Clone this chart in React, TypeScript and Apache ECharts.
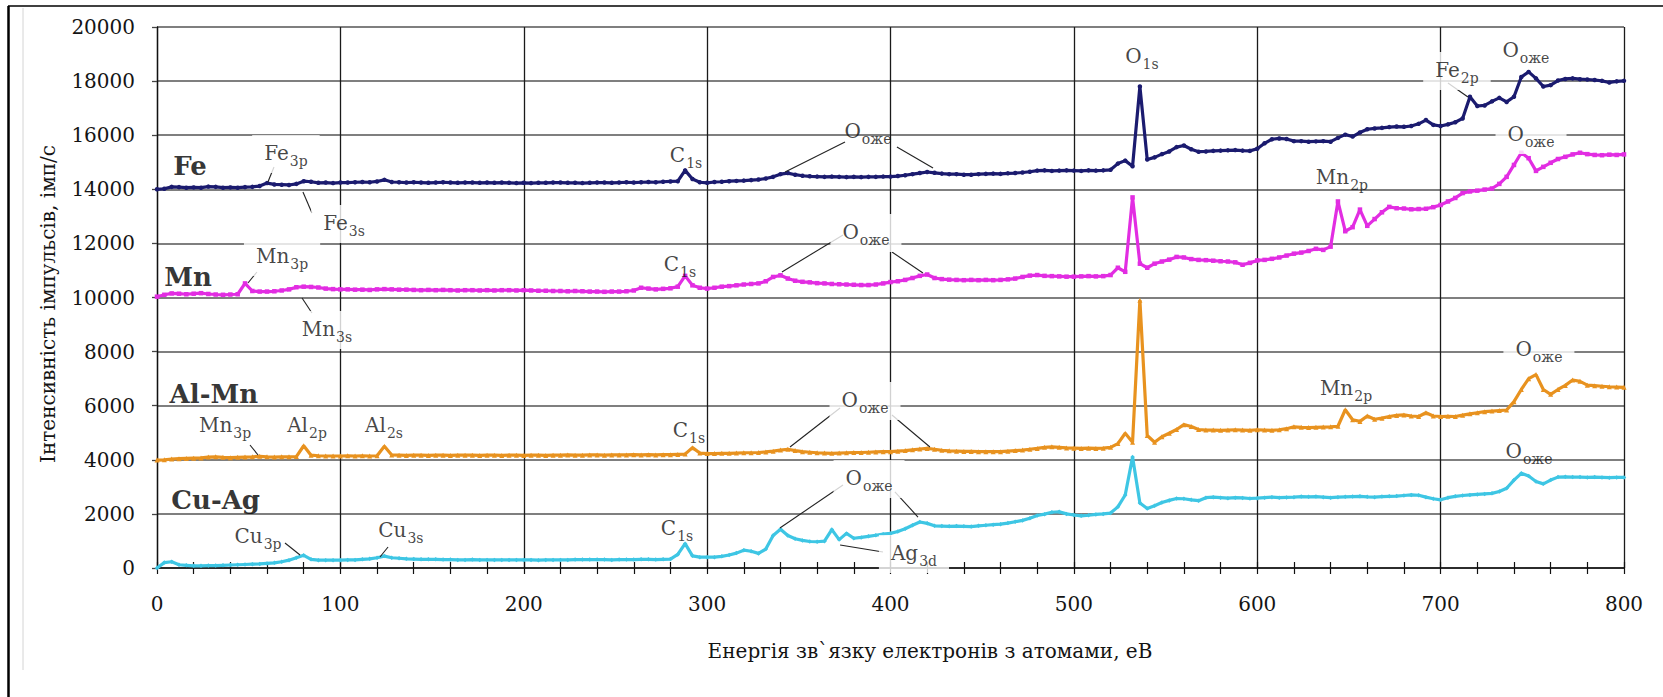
import { useEffect, useRef } from 'react';
import * as echarts from 'echarts';

// Binding energy grid step, eV
const energyStep = 4;

// Intensity, counts/s, sampled every 4 eV from 0 to 800 eV
const feCounts = [
  14000, 14020, 14090, 14080, 14060, 14070, 14060, 14100, 14090, 14060,
  14070, 14060, 14080, 14090, 14120, 14230, 14180, 14170, 14160, 14200,
  14300, 14280, 14240, 14250, 14230, 14250, 14250, 14260, 14270, 14260,
  14290, 14350, 14270, 14260, 14250, 14260, 14250, 14240, 14250, 14260,
  14250, 14240, 14250, 14250, 14240, 14250, 14240, 14250, 14240, 14230,
  14240, 14230, 14240, 14240, 14250, 14250, 14240, 14240, 14230, 14240,
  14250, 14250, 14240, 14250, 14260, 14250, 14260, 14270, 14260, 14280,
  14290, 14300, 14700, 14380, 14260, 14240, 14270, 14280, 14300, 14310,
  14320, 14340, 14360, 14400, 14460, 14560, 14600, 14540, 14500, 14480,
  14470, 14460, 14470, 14460, 14450, 14460, 14450, 14460, 14460, 14470,
  14470, 14490, 14520, 14560, 14600, 14640, 14610, 14580, 14560, 14560,
  14540, 14540, 14560, 14570, 14580, 14570, 14590, 14600, 14620, 14650,
  14690, 14700, 14680, 14690, 14700, 14690, 14680, 14700, 14690, 14700,
  14720, 14950, 15060, 14850, 17800, 15100, 15180, 15300, 15400, 15560,
  15620, 15480, 15390, 15400, 15420, 15430, 15440, 15450, 15430, 15420,
  15500, 15700, 15850, 15880, 15860, 15780, 15780, 15760, 15770, 15780,
  15760, 15900, 16020, 15950, 16100, 16220, 16250, 16270, 16300, 16320,
  16310, 16340, 16420, 16560, 16380, 16340, 16400, 16480, 16620, 17420,
  17080, 17100, 17250, 17380, 17230, 17420, 18150, 18340, 18100, 17800,
  17850, 18020, 18080, 18100, 18070, 18060, 18040, 18010, 17950, 17990,
  18010,
];

const mnCounts = [
  10030, 10100, 10150, 10140, 10120, 10140, 10160, 10130, 10110, 10100,
  10110, 10120, 10520, 10240, 10220, 10220, 10230, 10260, 10300, 10380,
  10400, 10390, 10370, 10330, 10310, 10300, 10300, 10290, 10290, 10280,
  10300, 10310, 10300, 10290, 10290, 10280, 10270, 10280, 10270, 10280,
  10270, 10260, 10270, 10270, 10260, 10270, 10260, 10270, 10270, 10260,
  10270, 10260, 10250, 10250, 10240, 10240, 10230, 10240, 10230, 10220,
  10220, 10210, 10220, 10220, 10230, 10260, 10360, 10330, 10300, 10320,
  10340, 10400, 10800, 10450, 10360, 10330, 10360, 10400, 10420, 10450,
  10480, 10500, 10520, 10600, 10760, 10820, 10700, 10620, 10580, 10560,
  10530, 10520, 10500, 10490, 10480, 10470, 10460, 10460, 10480, 10520,
  10570, 10600, 10650, 10720, 10800, 10850, 10720, 10680, 10660, 10650,
  10640, 10650, 10640, 10650, 10640, 10650, 10670, 10700, 10760, 10810,
  10830, 10800, 10790, 10780, 10770, 10770, 10780, 10790, 10780, 10790,
  10830, 11100, 10950, 13700, 11250, 11100, 11250, 11330, 11400, 11500,
  11480, 11420, 11390, 11380, 11360, 11340, 11330, 11300, 11210, 11280,
  11370, 11390, 11430, 11480, 11550, 11620, 11660, 11720, 11800, 11760,
  11880, 13550, 12450, 12600, 13250, 12650, 12900, 13150, 13350, 13300,
  13290, 13260, 13270, 13280, 13340, 13420, 13550, 13680, 13860, 13920,
  13950, 13990, 14030, 14200, 14460, 14900, 15350, 15150, 14680, 14830,
  14980, 15120, 15200, 15290, 15350, 15300, 15270, 15260, 15280, 15270,
  15290,
];

const alMnCounts = [
  3990, 4000, 4030, 4040, 4050, 4060, 4070, 4100, 4110, 4090,
  4080, 4090, 4100, 4110, 4130, 4110, 4100, 4110, 4110, 4120,
  4520, 4170, 4150, 4140, 4140, 4140, 4150, 4140, 4150, 4140,
  4150, 4500, 4180, 4170, 4160, 4170, 4170, 4160, 4170, 4170,
  4160, 4170, 4170, 4170, 4160, 4170, 4170, 4160, 4170, 4170,
  4160, 4170, 4170, 4160, 4170, 4170, 4180, 4170, 4170, 4180,
  4180, 4170, 4180, 4180, 4180, 4190, 4180, 4190, 4180, 4190,
  4190, 4200, 4210, 4450, 4250, 4230, 4230, 4240, 4240, 4250,
  4260, 4260, 4270, 4290, 4320, 4360, 4390, 4340, 4300, 4280,
  4260, 4250, 4240, 4250, 4260, 4270, 4270, 4280, 4290, 4300,
  4300, 4320, 4340, 4370, 4400, 4420, 4390, 4350, 4330, 4320,
  4310, 4310, 4300, 4300, 4300, 4300, 4320, 4340, 4360, 4390,
  4420, 4460, 4480, 4460, 4440, 4430, 4420, 4430, 4420, 4430,
  4460, 4600, 4980, 4650, 9900, 4900, 4650, 4850, 4980, 5120,
  5300, 5230, 5120, 5100, 5100, 5090, 5100, 5110, 5100, 5090,
  5110, 5100, 5090, 5110, 5150, 5220, 5200, 5190, 5200, 5210,
  5220, 5240, 5850, 5480, 5420, 5620, 5500, 5540, 5600, 5640,
  5660, 5620, 5600, 5740, 5620, 5600, 5610, 5600, 5650, 5700,
  5740, 5780, 5800, 5820, 5840, 6150, 6600, 7000, 7150, 6600,
  6420, 6600, 6750, 6950, 6900, 6760, 6740, 6720, 6700, 6690,
  6680,
];

const cuAgCounts = [
  0, 200, 230, 120, 100, 80, 80, 90, 90, 100,
  110, 120, 130, 140, 150, 170, 190, 230, 290, 380,
  470, 320, 290, 290, 290, 290, 300, 300, 320, 340,
  380, 440, 380, 360, 340, 330, 320, 320, 320, 310,
  310, 300, 300, 310, 300, 300, 300, 300, 300, 300,
  300, 300, 290, 300, 300, 300, 300, 310, 310, 310,
  310, 310, 300, 310, 310, 310, 320, 320, 310, 320,
  330, 500, 900, 450, 400, 400, 400, 430, 480, 550,
  660, 620, 540, 700, 1200, 1430, 1200, 1080, 1020, 980,
  970, 990, 1420, 1050, 1280, 1100, 1130, 1170, 1210, 1250,
  1280, 1350, 1450, 1580, 1700, 1650, 1560, 1550, 1540, 1550,
  1540, 1530, 1560, 1580, 1600, 1620, 1660, 1710, 1760, 1840,
  1940, 1990, 2060, 2080, 2000, 1960, 1930, 1950, 1980, 2000,
  2030, 2260, 2700, 4100, 2400, 2200, 2300, 2420, 2500, 2570,
  2560, 2520, 2490, 2600, 2620, 2600, 2580, 2600, 2590, 2570,
  2580, 2600, 2620, 2600, 2610, 2620, 2640, 2630, 2640, 2620,
  2600, 2620, 2630, 2640, 2650, 2630, 2620, 2640, 2650, 2660,
  2680, 2700, 2690, 2620, 2560, 2520, 2600, 2650, 2680, 2700,
  2720, 2740, 2760, 2830, 2950, 3250, 3500, 3400, 3200, 3110,
  3250, 3360, 3370, 3360, 3360, 3350, 3360, 3350, 3340, 3350,
  3350,
];

// Sample names and where they sit (eV, counts/s)
const sampleNames = ['Fe', 'Mn', 'Al-Mn', 'Cu-Ag'];
const sampleNameEnergy = [18, 17, 31, 32];
const sampleNameCounts = [14860, 10760, 6430, 2510];

// Peak annotations: element_subscript, anchor energy, anchor counts
const peakLabels = [
  'Fe_3p', 'Fe_3s', 'Mn_3p', 'Mn_3s', 'C_1s', 'C_1s', 'C_1s', 'C_1s',
  'O_оже', 'O_оже', 'O_оже', 'O_оже', 'Ag_3d', 'O_1s', 'Fe_2p', 'O_оже',
  'Mn_2p', 'O_оже', 'Mn_2p', 'O_оже', 'O_оже', 'Mn_3p', 'Al_2p', 'Al_2s',
  'Cu_3p', 'Cu_3s',
];
const peakEnergy = [
  70.3, 102, 68.2, 92.7, 288.5, 285.2, 290.1, 283.6,
  387.7, 386.6, 386.1, 388.3, 412.8, 537.1, 708.9, 746.5,
  646.2, 749.3, 648.4, 753.6, 748.2, 37.1, 81.8, 123.8,
  55.1, 133,
];
const peakCounts = [
  15305, 12717, 11497, 8798, 15231, 11201, 5065, 1442,
  16118, 12384, 6174, 3290, 518, 18891, 18373, 19113,
  14418, 16007, 6617, 8059, 4288, 5250, 5250, 5250,
  1146, 1368,
];
// Annotations drawn on an opaque box
const boxedPeaks = [0, 1, 2, 3, 9, 10, 11, 12, 14, 17, 19];

// Leader lines from a peak to its annotation: [eV, counts] pairs
const leaderStart = [
  [63.8, 14824], [79.6, 13900], [54.5, 10943], [79.1, 9982],
  [342.5, 14640], [403.5, 15564], [340.8, 10943], [400.8, 11682],
  [345.2, 4473], [400.8, 5656], [339.7, 1479], [402.4, 2810],
  [372.5, 850], [69.8, 924], [121.6, 407], [50.7, 4547], [704, 17930],
];
const leaderEnd = [
  [60.5, 14270], [84.5, 13124], [49.6, 10536], [84.5, 9427],
  [375.2, 15749], [423.2, 14787], [374.1, 12311], [417.7, 10906],
  [372.5, 5915], [421.5, 4473], [374.1, 3068], [415, 1885],
  [395.9, 591], [78, 481], [126, 776], [55.1, 4177], [714.9, 17412],
];

const FONT = '"DejaVu Serif", "Liberation Serif", serif';
const INK = '#141414';

function richText(label: string) {
  const [main, sub] = label.split('_');
  return sub ? `{m|${main}}{s|${sub}}` : `{m|${main}}`;
}

export default function App() {
  const ref = useRef<HTMLDivElement>(null);

  useEffect(() => {
    if (!ref.current) return;
    const chart = echarts.init(ref.current, undefined, { renderer: 'svg' });
    const energies = feCounts.map((_, i) => i * energyStep);
    const pairs = (counts: number[]) => counts.map((c, i) => [energies[i], c]);

    const spectrum = (name: string, counts: number[], color: string, symbol: string, size: number) => ({
      name,
      type: 'line',
      data: pairs(counts),
      showSymbol: true,
      symbol,
      symbolSize: size,
      itemStyle: { color },
      lineStyle: { color, width: 3.2 },
      emphasis: { disabled: true },
      silent: true,
      z: 3,
    });

    const rich = {
      m: { fontFamily: FONT, fontSize: 20, lineHeight: 22, verticalAlign: 'top', color: INK },
      s: { fontFamily: FONT, fontSize: 14, lineHeight: 14, verticalAlign: 'top', padding: [11, 0, 0, 1], color: INK },
    };

    const axisFont = { fontFamily: FONT, fontSize: 20, color: INK };

    chart.setOption({
      animation: false,
      backgroundColor: '#ffffff',
      grid: { left: 157, right: 39, top: 27, bottom: 129, containLabel: false },
      xAxis: [
        {
          type: 'value',
          min: 0,
          max: 800,
          interval: 100,
          axisLine: { show: true, onZero: false, lineStyle: { color: '#111', width: 1.5 } },
          axisTick: { show: true, inside: false, length: 6, lineStyle: { color: '#111', width: 1.2 } },
          minorTick: { show: true, splitNumber: 5, length: 6, lineStyle: { color: '#111', width: 1.2 } },
          axisLabel: { ...axisFont, margin: 26, formatter: (v: number) => String(v) },
          splitLine: { show: true, lineStyle: { color: '#1a1a1a', width: 1.3 } },
        },
        {
          type: 'value',
          min: 0,
          max: 800,
          interval: 100,
          position: 'bottom',
          axisLine: { show: false },
          axisTick: { show: true, inside: true, length: 6, lineStyle: { color: '#111', width: 1.2 } },
          minorTick: { show: true, splitNumber: 5, length: 6, lineStyle: { color: '#111', width: 1.2 } },
          axisLabel: { show: false },
          splitLine: { show: false },
        },
      ],
      yAxis: {
        type: 'value',
        min: 0,
        max: 20000,
        interval: 2000,
        axisLine: { show: true, lineStyle: { color: '#111', width: 1.3 } },
        axisTick: { show: true, length: 5, lineStyle: { color: '#444', width: 1.3 } },
        axisLabel: { ...axisFont, margin: 22, formatter: (v: number) => String(v) },
        splitLine: { show: true, lineStyle: { color: '#555', width: 1.6 } },
      },
      series: [
        spectrum('Fe', feCounts, '#1b1b6f', 'circle', 4.5),
        spectrum('Mn', mnCounts, '#e22de2', 'rect', 4.5),
        spectrum('Al-Mn', alMnCounts, '#e8921f', 'triangle', 5),
        spectrum('Cu-Ag', cuAgCounts, '#3ec6e4', 'diamond', 4.5),
        {
          name: 'peaks',
          type: 'scatter',
          symbolSize: 0,
          silent: true,
          z: 10,
          emphasis: { disabled: true },
          data: peakLabels.map((label, i) => ({
            value: [peakEnergy[i], peakCounts[i]],
            name: label,
            label: boxedPeaks.includes(i)
              ? { backgroundColor: '#ffffff', padding: [8, 12, 8, 12] }
              : { padding: 0 },
          })),
          label: {
            show: true,
            position: 'inside',
            formatter: (p: any) => richText(p.name),
            rich,
          },
          markLine: {
            silent: true,
            symbol: ['none', 'none'],
            label: { show: false },
            emphasis: { disabled: true },
            lineStyle: { color: '#222', width: 1.1, type: 'solid' },
            data: leaderStart.map((s, i) => [{ coord: s }, { coord: leaderEnd[i] }]),
          },
        },
        {
          name: 'samples',
          type: 'scatter',
          symbolSize: 0,
          silent: true,
          z: 10,
          emphasis: { disabled: true },
          data: sampleNames.map((n, i) => ({ value: [sampleNameEnergy[i], sampleNameCounts[i]], name: n })),
          label: {
            show: true,
            position: 'inside',
            formatter: (p: any) => p.name,
            fontFamily: FONT,
            fontWeight: 'bold',
            fontSize: 26,
            color: '#000',
          },
        },
      ],
      graphic: [
        { type: 'line', silent: true, shape: { x1: 8.5, y1: 6, x2: 8.5, y2: 697 }, style: { stroke: '#000', lineWidth: 2.5 } },
        { type: 'line', silent: true, shape: { x1: 8, y1: 6, x2: 1663, y2: 6 }, style: { stroke: '#000', lineWidth: 1.6 } },
        { type: 'line', silent: true, shape: { x1: 23, y1: 8, x2: 23, y2: 670 }, style: { stroke: '#d4d4d4', lineWidth: 1 } },
        {
          type: 'text',
          silent: true,
          x: 930,
          y: 651,
          style: {
            text: 'Енергія зв`язку електронів з атомами, еВ',
            fontFamily: FONT,
            fontSize: 20,
            fill: INK,
            align: 'center',
            verticalAlign: 'middle',
            textAlign: 'center',
            textVerticalAlign: 'middle',
          },
        },
        {
          type: 'text',
          silent: true,
          x: 48,
          y: 304,
          rotation: Math.PI / 2,
          style: {
            text: 'Інтенсивність імпульсів, імп/с',
            fontFamily: FONT,
            fontSize: 20,
            fill: INK,
            align: 'center',
            verticalAlign: 'middle',
            textAlign: 'center',
            textVerticalAlign: 'middle',
          },
        },
      ],
    });

    return () => chart.dispose();
  }, []);

  return (
    <div
      ref={ref}
      style={{ position: 'fixed', left: 0, top: 0, width: 1663, height: 697, background: '#fff' }}
    />
  );
}
